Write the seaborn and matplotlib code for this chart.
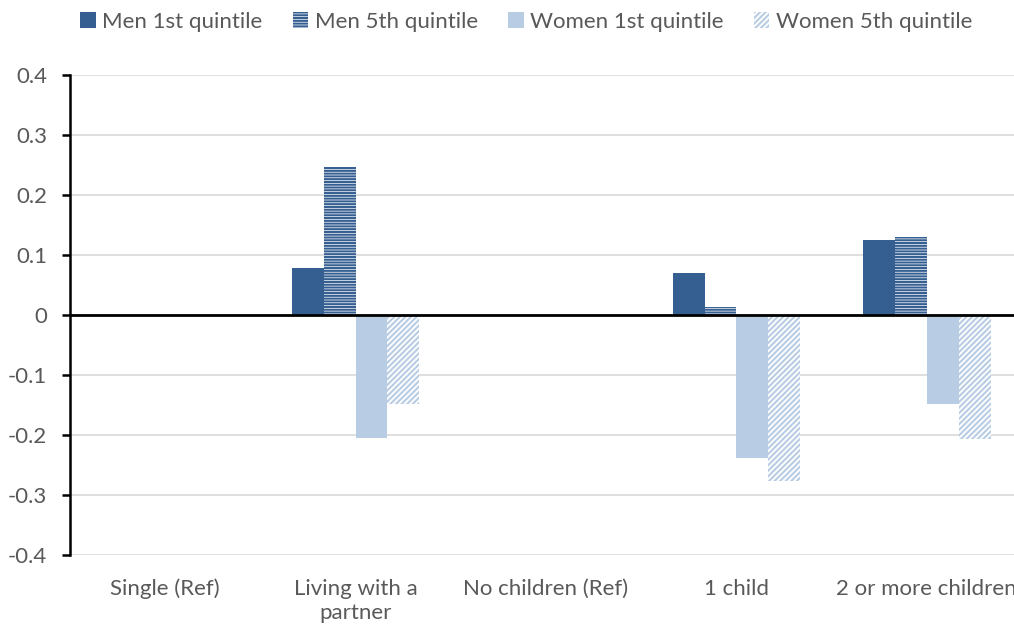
import matplotlib
matplotlib.use("Agg")
import matplotlib.pyplot as plt
from matplotlib.patches import Patch
import seaborn as sns
import pandas as pd
import numpy as np

categories = ["Single (Ref)", "Living with a\npartner", "No children (Ref)", "1 child", "2 or more children"]
series = ["Men 1st quintile", "Men 5th quintile", "Women 1st quintile", "Women 5th quintile"]
men_q1 = [0.0, 0.078, 0.0, 0.070, 0.125]
men_q5 = [0.0, 0.247, 0.0, 0.013, 0.130]
women_q1 = [0.0, -0.205, 0.0, -0.238, -0.148]
women_q5 = [0.0, -0.148, 0.0, -0.277, -0.207]
yticks = [-0.4, -0.3, -0.2, -0.1, 0.0, 0.1, 0.2, 0.3, 0.4]
ytick_labels = ["-0.4", "-0.3", "-0.2", "-0.1", "0", "0.1", "0.2", "0.3", "0.4"]

dark = "#355F91"
light = "#B8CCE4"
face = [dark, "white", light, "white"]
edge = [dark, dark, light, light]
hatches = [None, "------", None, "//////"]

rows = []
for s, vals in zip(series, [men_q1, men_q5, women_q1, women_q5]):
    for c, v in zip(categories, vals):
        rows.append({"category": c, "series": s, "value": v})
df = pd.DataFrame(rows)

sns.set_theme(style="white")
plt.rcParams["font.family"] = ["Lato", "DejaVu Sans"]
plt.rcParams["hatch.linewidth"] = 1.5

fig = plt.figure(figsize=(10.14, 6.25), dpi=100)
ax = fig.add_axes([70/1014, 70/625, 952/1014, 480/625])

sns.barplot(data=df, x="category", y="value", hue="series", order=categories,
            hue_order=series, palette=[dark, dark, light, light], width=0.67,
            errorbar=None, legend=False, ax=ax, linewidth=0)

n = len(categories)
for i, p in enumerate(ax.patches[:n * len(series)]):
    k = i // n
    p.set_facecolor(face[k])
    p.set_edgecolor(edge[k])
    p.set_linewidth(0)
    if hatches[k]:
        p.set_hatch(hatches[k])

ax.set_ylim(-0.4, 0.4)
ax.set_xlim(-0.5, n - 0.5)
ax.set_yticks(yticks)
ax.set_yticklabels(ytick_labels)
ax.yaxis.grid(True, color="#D9D9D9", linewidth=1.2)
ax.set_axisbelow(True)
ax.axhline(0, color="black", linewidth=2, zorder=5)
for s in ["top", "right", "bottom"]:
    ax.spines[s].set_visible(False)
ax.spines["left"].set_color("black")
ax.spines["left"].set_linewidth(1.8)
ax.tick_params(axis="y", which="major", left=True, length=5.5, width=1.8, color="black",
               pad=11, labelsize=16, labelcolor="#595959", direction="out")
ax.tick_params(axis="x", length=0, pad=17, labelsize=16, labelcolor="#595959")
for lbl in ax.get_xticklabels():
    lbl.set_linespacing(1.3)
ax.set_xlabel("")
ax.set_ylabel("")

handles = [Patch(facecolor=face[k], edgecolor=edge[k], hatch=hatches[k], linewidth=0, label=series[k])
           for k in range(4)]
leg = fig.legend(handles=handles, loc="center", bbox_to_anchor=(0.519, 0.965), ncol=4,
                 frameon=False, fontsize=16, handlelength=0.7, handleheight=0.7,
                 handletextpad=0.3, columnspacing=1.35, labelcolor="#595959")

fig.savefig("out.png", dpi=100)
